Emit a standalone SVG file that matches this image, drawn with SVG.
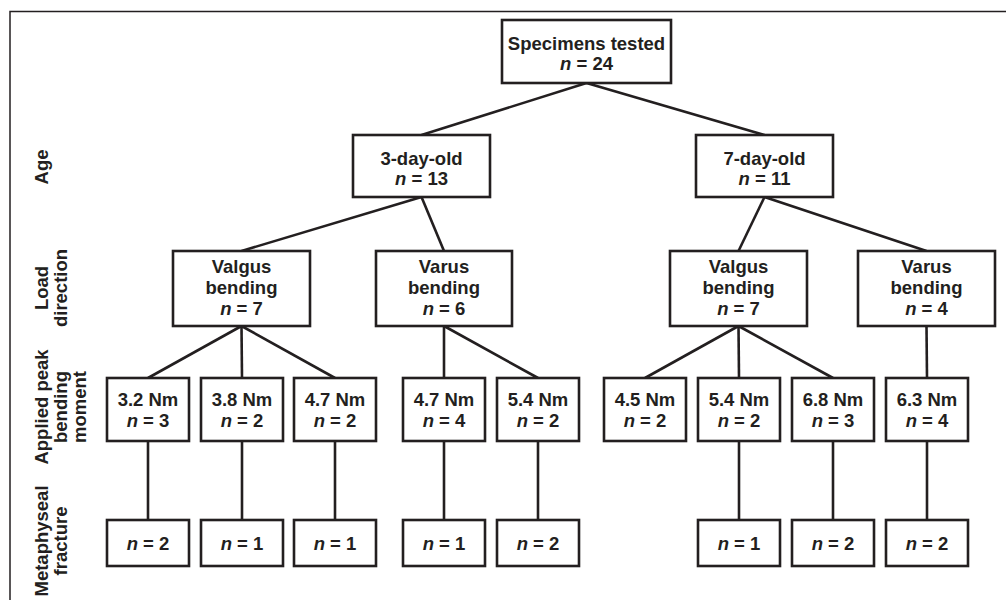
<svg xmlns="http://www.w3.org/2000/svg" width="1006" height="600" viewBox="0 0 1006 600">
<style>
.box{fill:#fff;stroke:#231f20;stroke-width:2.6}
.t{font-family:"Liberation Sans",Arial,Helvetica,sans-serif;font-weight:bold;font-size:18.5px;fill:#231f20;text-anchor:middle}
.i{font-style:italic}
.c line{stroke:#231f20;stroke-width:2.6;stroke-linecap:butt}
.frame{fill:none;stroke:#231f20;stroke-width:1.5}
</style>
<rect width="1006" height="600" fill="#fff"/>
<path class="frame" d="M10,602 V11.5 H1008"/>
<g id="labels" class="t">
<text transform="translate(48,167) rotate(-90)">Age</text>
<text transform="translate(48,288) rotate(-90)">Load</text>
<text transform="translate(67,288) rotate(-90)">direction</text>
<text transform="translate(48,407) rotate(-90)">Applied peak</text>
<text transform="translate(67,407) rotate(-90)">bending</text>
<text transform="translate(86,407) rotate(-90)">moment</text>
<text transform="translate(48,541) rotate(-90)">Metaphyseal</text>
<text transform="translate(67,541) rotate(-90)">fracture</text>
</g>
<g id="connectors" class="c">
<line x1="586.5" y1="83" x2="421.5" y2="135"/>
<line x1="586.5" y1="83" x2="764.5" y2="135"/>
<line x1="421.5" y1="197" x2="241.5" y2="251"/>
<line x1="421.5" y1="197" x2="444" y2="251"/>
<line x1="764.5" y1="197" x2="738.5" y2="251"/>
<line x1="764.5" y1="197" x2="926.5" y2="251"/>
<line x1="241.5" y1="326" x2="148" y2="378"/>
<line x1="241.5" y1="326" x2="242" y2="378"/>
<line x1="241.5" y1="326" x2="335" y2="378"/>
<line x1="444" y1="326" x2="444" y2="378"/>
<line x1="444" y1="326" x2="538" y2="378"/>
<line x1="738.5" y1="326" x2="645" y2="378"/>
<line x1="738.5" y1="326" x2="739" y2="378"/>
<line x1="738.5" y1="326" x2="833" y2="378"/>
<line x1="926.5" y1="326" x2="927" y2="378"/>
<line x1="148" y1="441" x2="148" y2="520"/>
<line x1="242" y1="441" x2="242" y2="520"/>
<line x1="335" y1="441" x2="335" y2="520"/>
<line x1="444" y1="441" x2="444" y2="520"/>
<line x1="538" y1="441" x2="538" y2="520"/>
<line x1="739" y1="441" x2="739" y2="520"/>
<line x1="833" y1="441" x2="833" y2="520"/>
<line x1="927" y1="441" x2="927" y2="520"/>
</g>
<g id="root"><rect class="box" x="502" y="20" width="169" height="63"/><text class="t" x="586.5" y="50">Specimens tested</text><text class="t" x="586.5" y="69.5"><tspan class="i">n</tspan> = 24</text></g>
<g id="age3"><rect class="box" x="353" y="135" width="137" height="62"/><text class="t" x="421.5" y="165">3-day-old</text><text class="t" x="421.5" y="185"><tspan class="i">n</tspan> = 13</text></g>
<g id="age7"><rect class="box" x="696" y="135" width="137" height="62"/><text class="t" x="764.5" y="165">7-day-old</text><text class="t" x="764.5" y="185"><tspan class="i">n</tspan> = 11</text></g>
<g id="valgus3"><rect class="box" x="173" y="251" width="137" height="75"/><text class="t" x="241.5" y="273">Valgus</text><text class="t" x="241.5" y="294">bending</text><text class="t" x="241.5" y="315"><tspan class="i">n</tspan> = 7</text></g>
<g id="varus3"><rect class="box" x="376" y="251" width="136" height="75"/><text class="t" x="444" y="273">Varus</text><text class="t" x="444" y="294">bending</text><text class="t" x="444" y="315"><tspan class="i">n</tspan> = 6</text></g>
<g id="valgus7"><rect class="box" x="670" y="251" width="137" height="75"/><text class="t" x="738.5" y="273">Valgus</text><text class="t" x="738.5" y="294">bending</text><text class="t" x="738.5" y="315"><tspan class="i">n</tspan> = 7</text></g>
<g id="varus7"><rect class="box" x="858" y="251" width="137" height="75"/><text class="t" x="926.5" y="273">Varus</text><text class="t" x="926.5" y="294">bending</text><text class="t" x="926.5" y="315"><tspan class="i">n</tspan> = 4</text></g>
<g id="m1"><rect class="box" x="107" y="378" width="82" height="63"/><text class="t" x="148" y="406">3.2 Nm</text><text class="t" x="148" y="427"><tspan class="i">n</tspan> = 3</text></g>
<g id="m2"><rect class="box" x="201" y="378" width="82" height="63"/><text class="t" x="242" y="406">3.8 Nm</text><text class="t" x="242" y="427"><tspan class="i">n</tspan> = 2</text></g>
<g id="m3"><rect class="box" x="294" y="378" width="82" height="63"/><text class="t" x="335" y="406">4.7 Nm</text><text class="t" x="335" y="427"><tspan class="i">n</tspan> = 2</text></g>
<g id="m4"><rect class="box" x="403" y="378" width="82" height="63"/><text class="t" x="444" y="406">4.7 Nm</text><text class="t" x="444" y="427"><tspan class="i">n</tspan> = 4</text></g>
<g id="m5"><rect class="box" x="497" y="378" width="82" height="63"/><text class="t" x="538" y="406">5.4 Nm</text><text class="t" x="538" y="427"><tspan class="i">n</tspan> = 2</text></g>
<g id="m6"><rect class="box" x="604" y="378" width="82" height="63"/><text class="t" x="645" y="406">4.5 Nm</text><text class="t" x="645" y="427"><tspan class="i">n</tspan> = 2</text></g>
<g id="m7"><rect class="box" x="698" y="378" width="82" height="63"/><text class="t" x="739" y="406">5.4 Nm</text><text class="t" x="739" y="427"><tspan class="i">n</tspan> = 2</text></g>
<g id="m8"><rect class="box" x="792" y="378" width="82" height="63"/><text class="t" x="833" y="406">6.8 Nm</text><text class="t" x="833" y="427"><tspan class="i">n</tspan> = 3</text></g>
<g id="m9"><rect class="box" x="886" y="378" width="82" height="63"/><text class="t" x="927" y="406">6.3 Nm</text><text class="t" x="927" y="427"><tspan class="i">n</tspan> = 4</text></g>
<g id="f1"><rect class="box" x="107" y="520" width="82" height="46"/><text class="t" x="148" y="549.5"><tspan class="i">n</tspan> = 2</text></g>
<g id="f2"><rect class="box" x="201" y="520" width="82" height="46"/><text class="t" x="242" y="549.5"><tspan class="i">n</tspan> = 1</text></g>
<g id="f3"><rect class="box" x="294" y="520" width="82" height="46"/><text class="t" x="335" y="549.5"><tspan class="i">n</tspan> = 1</text></g>
<g id="f4"><rect class="box" x="403" y="520" width="82" height="46"/><text class="t" x="444" y="549.5"><tspan class="i">n</tspan> = 1</text></g>
<g id="f5"><rect class="box" x="497" y="520" width="82" height="46"/><text class="t" x="538" y="549.5"><tspan class="i">n</tspan> = 2</text></g>
<g id="f7"><rect class="box" x="698" y="520" width="82" height="46"/><text class="t" x="739" y="549.5"><tspan class="i">n</tspan> = 1</text></g>
<g id="f8"><rect class="box" x="792" y="520" width="82" height="46"/><text class="t" x="833" y="549.5"><tspan class="i">n</tspan> = 2</text></g>
<g id="f9"><rect class="box" x="886" y="520" width="82" height="46"/><text class="t" x="927" y="549.5"><tspan class="i">n</tspan> = 2</text></g>
</svg>
